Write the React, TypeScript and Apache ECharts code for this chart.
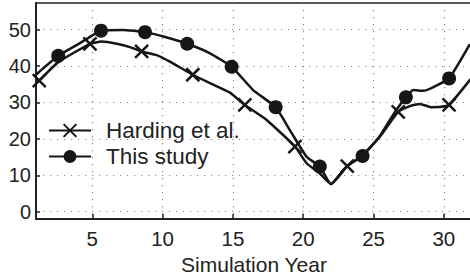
import React, { useEffect, useRef } from "react";
import * as echarts from "echarts";

// Harding et al. (line with X markers)
const hardingYears = [1.0, 1.23, 2.56, 4.84, 5.67, 6.74, 7.68, 8.51, 9.58, 10.52, 12.15, 13.37, 14.79, 15.85, 17.4, 19.41, 20.24, 21.18, 21.97, 23.13, 24.17, 25.45, 26.75, 27.58, 28.3, 29.1, 29.8, 30.37, 31.9];
const hardingValues = [35.3, 36.0, 41.0, 46.1, 46.7, 46.1, 45.2, 44.0, 43.0, 41.2, 37.6, 35.3, 32.7, 29.3, 25.2, 17.9, 13.3, 10.5, 7.6, 12.5, 15.4, 20.6, 27.4, 29.0, 29.6, 28.7, 28.8, 29.3, 36.4];
const hardingMarkers = [1.23, 4.84, 8.51, 12.15, 15.85, 19.41, 23.13, 26.75, 30.37];

// This study (line with filled circle markers)
const studyYears = [1.0, 2.58, 4.13, 5.62, 7.18, 8.75, 10.24, 11.75, 13.37, 14.91, 16.44, 18.04, 19.05, 20.24, 21.18, 21.97, 23.1, 24.22, 25.45, 26.52, 27.3, 27.82, 28.55, 29.3, 30.37, 31.85];
const studyValues = [37.6, 42.8, 46.3, 49.7, 49.9, 49.3, 47.9, 46.1, 43.5, 39.8, 33.4, 28.7, 22.4, 15.1, 12.4, 7.6, 12.5, 15.3, 20.8, 27.4, 31.4, 33.4, 33.2, 34.3, 36.6, 46.0];
const studyMarkers = [2.58, 5.62, 8.75, 11.75, 14.91, 18.04, 21.18, 24.22, 27.3, 30.37];

const xTicks = [5, 10, 15, 20, 25, 30];
const yTicks = [0, 10, 20, 30, 40, 50];

const seriesNames = ["Harding et al.", "This study"];

const FONT = "Liberation Sans, Arial, Helvetica, sans-serif";
const INK = "#161616";
const X_SYMBOL = "path://M0,0L13,13M0,13L13,0";

function buildData(years: number[], values: number[], markers: number[]) {
  return years.map((x, i) => {
    const isMarker = markers.indexOf(x) >= 0;
    return isMarker ? { value: [x, values[i]] } : { value: [x, values[i]], symbol: "none" };
  });
}

export default function App() {
  const ref = useRef<HTMLDivElement>(null);

  useEffect(() => {
    if (!ref.current) return;
    const chart = echarts.init(ref.current, undefined, { renderer: "svg" });
    chart.setOption({
      animation: false,
      backgroundColor: "#ffffff",
      textStyle: { fontFamily: FONT },
      grid: {
        left: 36,
        top: 3,
        width: 436,
        height: 216,
        containLabel: false,
        outerBoundsMode: "none",
        show: true,
        borderColor: "#222",
        borderWidth: 1.5,
        backgroundColor: "transparent",
      },
      legend: {
        data: seriesNames,
        orient: "vertical",
        left: 43,
        top: 114,
        itemWidth: 42,
        itemHeight: 16,
        itemGap: 3,
        textStyle: { fontFamily: FONT, fontSize: 22.5, color: "#222", padding: [0, 0, 0, 10] },
        selectedMode: false,
      },
      xAxis: {
        type: "value",
        min: 1,
        max: 32,
        axisLine: { show: true, onZero: false, lineStyle: { color: "#222", width: 2 } },
        axisTick: { show: true, inside: true, length: 5, customValues: xTicks, lineStyle: { color: "#222", width: 1.5 } },
        axisLabel: { customValues: xTicks, fontFamily: FONT, fontSize: 20.5, color: "#222", margin: 9 },
        splitLine: { show: true, lineStyle: { color: "#8a8a8a", width: 1.2, type: [1.2, 5.8] } },
        name: "Simulation Year",
        nameLocation: "middle",
        nameGap: 33,
        nameTextStyle: { fontFamily: FONT, fontSize: 21, color: "#222", lineHeight: 21 },
      },
      yAxis: {
        type: "value",
        min: -2,
        max: 57.3,
        axisLine: { show: true, onZero: false, lineStyle: { color: "#222", width: 2 } },
        axisTick: { show: true, inside: true, length: 4, customValues: yTicks, lineStyle: { color: "#222", width: 1.5 } },
        axisLabel: { customValues: yTicks, fontFamily: FONT, fontSize: 20, color: "#222", margin: 5 },
        splitLine: { show: true, lineStyle: { color: "#8a8a8a", width: 1.2, type: [1.2, 5.8] } },
      },
      series: [
        {
          name: seriesNames[0],
          type: "line",
          data: buildData(hardingYears, hardingValues, hardingMarkers),
          smooth: 0.15,
          showSymbol: true,
          showAllSymbol: true,
          symbol: X_SYMBOL,
          symbolSize: 13,
          lineStyle: { color: INK, width: 2.5 },
          itemStyle: { color: INK, borderColor: INK, borderWidth: 2.5 },
          z: 2,
        },
        {
          name: seriesNames[1],
          type: "line",
          data: buildData(studyYears, studyValues, studyMarkers),
          smooth: 0.15,
          showSymbol: true,
          showAllSymbol: true,
          symbol: "circle",
          symbolSize: 14,
          lineStyle: { color: INK, width: 2.5 },
          itemStyle: { color: INK, borderColor: INK, borderWidth: 0 },
          z: 3,
        },
      ],
    });
    return () => chart.dispose();
  }, []);

  return (
    <div
      ref={ref}
      style={{ width: 470, height: 275, position: "absolute", left: 0, top: 0, background: "#fff" }}
    />
  );
}
